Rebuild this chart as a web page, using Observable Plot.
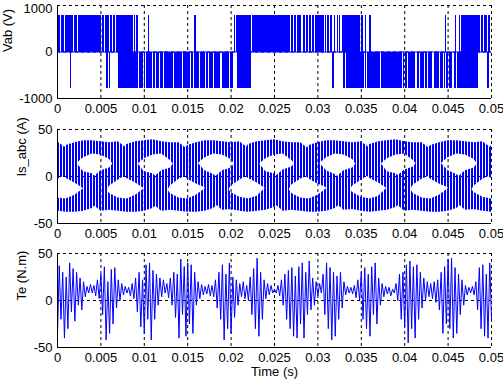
<!DOCTYPE html>
<html><head><meta charset="utf-8">
<script src="https://cdn.jsdelivr.net/npm/d3@7"></script>
<script src="https://cdn.jsdelivr.net/npm/@observablehq/plot@0.6"></script>
<style>
html,body{margin:0;padding:0;background:#fff;}
body{width:503px;height:383px;overflow:hidden;font-family:"Liberation Sans",Arial,Helvetica,sans-serif;}
#chart svg{display:block;}
</style></head><body><div id="chart"></div>
<script>
// ---- axes (time in ms, labelled in seconds) ----
const xTicks = [0,5,10,15,20,25,30,35,40,45,50];
const xTickLabels = ["0","0.005","0.01","0.015","0.02","0.025","0.03","0.035","0.04","0.045","0.05"];
const vabTicks = [-1000,0,1000];
const vabTickLabels = ["-1000","0","1000"];
const ampTicks = [-50,0,50];
const ampTickLabels = ["-50","0","50"];
const panelLabels = ["Vab (V)","Is_abc (A)","Te (N.m)"];
const timeLabel = "Time (s)";

// ---- Vab: PWM pulse blocks [start ms, end ms] at +Vdc and -Vdc ----
const vdcLevels = [785, -785];
const vabPos = [[0.06,0.33],[0.44,0.83],[0.94,1.33],[1.44,1.86],[1.94,2.28],[2.40,5.05],[5.17,5.44],[5.55,6.01],[6.13,6.28],[6.40,6.63],[6.78,8.77],[8.86,9.01],[9.12,9.28],[10.46,10.58],[15.80,15.96],[18.87,18.95],[20.41,20.53],[20.60,22.33],[22.45,26.89],[27.01,27.16],[27.31,27.54],[27.66,28.16],[28.31,28.54],[28.70,28.93],[29.04,29.23],[29.39,29.58],[29.70,30.73],[30.85,31.04],[31.12,31.31],[31.42,31.69],[31.88,32.08],[32.23,32.38],[32.46,32.65],[32.84,34.96],[35.07,35.26],[35.46,35.61],[35.92,36.19],[44.75,44.83],[45.82,45.98],[46.29,46.40],[46.52,48.78],[48.90,49.05],[49.20,49.55],[49.67,49.93],[49.98,50]];
const vabNeg = [[1.48,1.67],[5.63,5.82],[6.01,6.13],[7.05,9.37],[9.49,9.87],[9.98,10.14],[10.22,10.91],[11.02,11.33],[11.44,11.79],[11.90,12.25],[12.37,13.40],[13.52,14.36],[14.48,15.32],[15.44,15.63],[15.78,16.40],[16.51,17.05],[17.17,17.36],[17.47,18.01],[18.13,18.78],[18.97,19.55],[19.61,19.83],[19.95,20.22],[20.79,22.33],[31.69,31.88],[32.96,33.15],[33.31,35.34],[35.46,35.61],[35.72,37.26],[37.38,39.76],[39.87,39.99],[40.14,40.33],[40.45,41.29],[41.45,41.68],[41.79,42.25],[42.37,42.64],[42.75,43.21],[43.41,43.98],[44.10,44.44],[44.56,44.75],[44.86,45.06],[45.13,45.52],[45.71,46.02],[46.09,46.29],[46.36,48.45],[49.55,49.74]];

// ---- Is_abc: ripple band (low / high) of each phase, one value per ms ----
const isStep = 1;
const isALo = [-3,1,12,20,24,23,18,5,-2,-7,-13,-29,-37,-36,-37,-38,-38,-37,-34,-26,-10,-4,2,11,19,23,24,17,6,-3,-8,-12,-28,-36,-35,-37,-38,-37,-36,-33,-25,-9,-3,1,12,20,24,23,18,5,-2];
const isAHi = [21,33,36,38,38,37,36,37,30,17,5,3,-5,-18,-23,-24,-20,-13,-2,6,9,20,34,37,38,39,37,36,36,29,16,6,2,-6,-17,-22,-24,-21,-12,-1,7,10,21,33,36,38,38,37,36,37,30];
const isBLo = [-37,-38,-38,-37,-34,-26,-10,-4,2,11,19,23,24,17,6,-3,-8,-12,-28,-36,-35,-37,-38,-37,-36,-33,-25,-9,-3,1,12,20,24,23,18,5,-2,-7,-13,-29,-37,-36,-37,-38,-38,-37,-34,-26,-10,-3,1];
const isBHi = [-23,-24,-20,-13,-2,6,9,20,34,37,38,39,37,36,36,29,16,6,2,-6,-17,-22,-24,-21,-12,-1,7,10,21,33,36,38,38,37,36,37,30,17,5,3,-5,-18,-23,-24,-20,-13,-2,6,9,21,33];
const isCLo = [5,-2,-7,-13,-29,-37,-36,-37,-38,-38,-37,-34,-26,-10,-3,1,12,20,24,23,18,5,-2,-7,-13,-29,-37,-36,-37,-38,-38,-37,-34,-26,-10,-4,2,11,19,23,24,17,6,-3,-8,-12,-28,-36,-35,-37,-38];
const isCHi = [37,30,17,5,3,-5,-18,-23,-24,-20,-13,-2,6,9,21,33,36,38,38,37,36,37,30,17,5,3,-5,-18,-23,-24,-20,-13,-2,6,9,20,34,37,38,39,37,36,36,29,16,6,2,-6,-17,-22,-24];

// ---- Te: torque samples every 0.2 ms ----
const teStep = 0.2;
const teValues = [
-35,37,-20,30,-40, 25,-30,40,-12,34, -22,30,-5,24,-10, 20,4,15,8,17, 8,16,5,22,2,
28,-15,36,-42,20, -35,33,-25,35,-8, 22,0,18,6,15, 8,14,5,18,2, 24,-12,30,-28,22,
-35,38,-20,40,-42, 32,-20,28,-5,24, 4,22,8,18,3, 24,-5,30,-18,28, -40,44,-15,36,-38,
40,-25,38,-35,30, -5,20,2,17,6, 15,7,17,5,16, 4,22,-8,30,-20, 38,-42,28,-30,40,
-35,25,-18,22,-5, 18,4,20,2,16, 0,25,-15,34,-30, 45,-38,30,-20,22, 2,18,6,16,8,
12,8,16,5,22, -5,28,-20,32,-30, 35,-38,26,-40,36, -25,40,-40,30,-15, 42,-10,24,-5,20,
5,18,8,28,-15, 40,-30,35,-42,30, -38,26,-20,30,-8, 20,6,15,8,14, 7,16,3,22,0,
30,-20,35,-30,28, -38,36,-15,40,-25, 24,-5,18,4,15, 7,14,5,12,8, 18,0,28,-20,30,
-28,38,-45,42,-30, 36,-40,38,-20,30, -8,24,0,20,4, 18,2,20,-2,22, -10,30,-35,36,-25,
44,-30,45,-40,35, -35,28,-15,22,-5, 16,6,14,8,15, 6,20,-10,35,-30, 38,-38,28,-40,40,
-20];

// ---- helpers ----
const BLUE = "#0000ff";
const FONT = "'Liberation Sans', Arial, Helvetica, sans-serif";
const hatchDefs = () => {
  const d = document.createElementNS("http://www.w3.org/2000/svg", "defs");
  d.innerHTML = '<pattern id="hatch" x="0" y="0" width="3" height="12" patternUnits="userSpaceOnUse"><rect x="0" y="0" width="2" height="12" fill="#0000ff"/></pattern>';
  return d;
};

function panel({height, marginTop, marginBottom, yDomain, yTicks, yLabels, topLabelDy = 0, label, labelDx, marks, xlabel}) {
  const xFmt = new Map(xTicks.map((d, i) => [d, xTickLabels[i]]));
  const yFmt = new Map(yTicks.map((d, i) => [d, yLabels[i]]));
  const lowTicks = yTicks.slice(0, -1);
  const topTick = yTicks.slice(-1);
  return Plot.plot({
    width: 503, height, marginLeft: 57, marginRight: 12, marginTop, marginBottom,
    x: {domain: [0, 50]},
    y: {domain: yDomain},
    style: {fontFamily: FONT, fontSize: "13px", color: "#000", background: "#fff", overflow: "visible"},
    marks: [
      hatchDefs,
      Plot.ruleX(xTicks, {stroke: "#000", strokeDasharray: "3,3"}),
      Plot.ruleY(yTicks, {stroke: "#000", strokeDasharray: "3,3"}),
      ...marks,
      Plot.ruleX([xTicks[0]], {stroke: "#000"}),
      Plot.ruleY([yDomain[0]], {stroke: "#000"}),
      Plot.axisX(xTicks, {tickSize: 0, tickPadding: 5, tickFormat: d => xFmt.get(d), label: null, fontSize: 13}),
      Plot.axisY(lowTicks, {tickSize: 0, tickPadding: 5, tickFormat: d => yFmt.get(d), label: null, fontSize: 13}),
      Plot.axisY(topTick, {tickSize: 0, tickPadding: 5, tickFormat: d => yFmt.get(d), label: null, fontSize: 13, dy: topLabelDy}),
      Plot.text([label], {frameAnchor: "left", rotate: -90, dx: labelDx, fontSize: 13, fill: "#000"}),
      xlabel ? Plot.text([xlabel], {frameAnchor: "bottom", dy: 28, fontSize: 13, fill: "#000"}) : null
    ]
  });
}

const phase = (lo, hi) => lo.map((v, i) => ({t: i * isStep, lo: v, hi: hi[i]}));
const teData = teValues.map((v, i) => ({t: i * teStep, v}));

const p1 = panel({
  height: 117, marginTop: 5, marginBottom: 19,
  yDomain: [-1000, 1000], yTicks: vabTicks, yLabels: vabTickLabels, topLabelDy: 3,
  label: panelLabels[0], labelDx: -49.5,
  marks: [
    Plot.rect(vabPos, {x1: d => d[0], x2: d => d[1], y1: 0, y2: vdcLevels[0], fill: BLUE, shapeRendering: "crispEdges"}),
    Plot.rect(vabNeg, {x1: d => d[0], x2: d => d[1], y1: 0, y2: vdcLevels[1], fill: BLUE, shapeRendering: "crispEdges"}),
    Plot.ruleY([0], {stroke: BLUE})
  ]
});

const p2 = panel({
  height: 125, marginTop: 12, marginBottom: 19,
  yDomain: [-50, 50], yTicks: ampTicks, yLabels: ampTickLabels,
  label: panelLabels[1], labelDx: -36,
  marks: [
    Plot.areaY(phase(isALo, isAHi), {x: "t", y1: "lo", y2: "hi", fill: "url(#hatch)"}),
    Plot.areaY(phase(isBLo, isBHi), {x: "t", y1: "lo", y2: "hi", fill: "url(#hatch)"}),
    Plot.areaY(phase(isCLo, isCHi), {x: "t", y1: "lo", y2: "hi", fill: "url(#hatch)"})
  ]
});

const p3 = panel({
  height: 141, marginTop: 11, marginBottom: 36,
  yDomain: [-50, 50], yTicks: ampTicks, yLabels: ampTickLabels,
  label: panelLabels[2], labelDx: -36, xlabel: timeLabel,
  marks: [
    Plot.line(teData, {x: "t", y: "v", stroke: BLUE, strokeWidth: 1})
  ]
});

const root = document.getElementById("chart");
root.append(p1, p2, p3);
</script>
</body></html>
